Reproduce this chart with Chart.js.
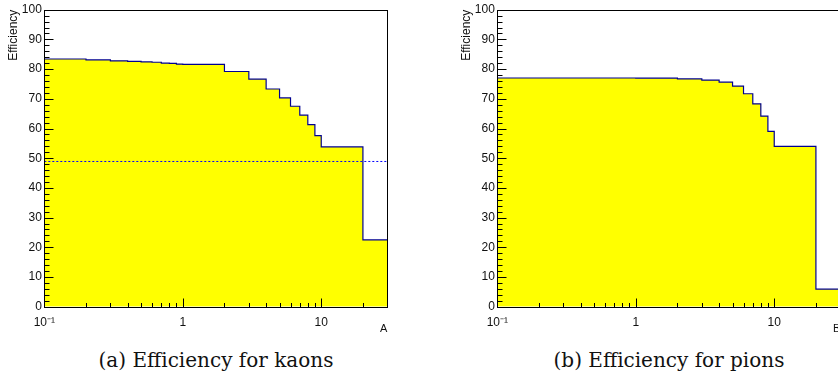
<!DOCTYPE html>
<html>
<head>
<meta charset="utf-8">
<script src="https://cdn.jsdelivr.net/npm/chart.js@4.4.1/dist/chart.umd.min.js"></script>
<style>
  html, body { margin: 0; padding: 0; background: #fff; }
  #wrap { position: relative; width: 838px; height: 385px; overflow: hidden; }
  canvas { position: absolute; top: 0; }
  .cap {
    position: absolute; top: 350px;
    font-family: "DejaVu Serif", serif; font-size: 20px; line-height: 20px;
    color: #111; white-space: nowrap; transform: translateX(-50%);
  }
</style>
</head>
<body>
<div id="wrap">
  <canvas id="kaons" width="420" height="340" style="left:0px"></canvas>
  <canvas id="pions" width="420" height="340" style="left:453px"></canvas>
  <div class="cap" style="left:216px">(a) Efficiency for kaons</div>
  <div class="cap" style="left:669px">(b) Efficiency for pions</div>
</div>
<script>
// bin edges of the histograms (log x axis)
const binEdges = [0.1, 0.2, 0.3, 0.4, 0.5, 0.6, 0.7, 0.8, 0.9, 1, 2, 3, 4, 5, 6, 7, 8, 9, 10, 20, 30];

// efficiency per bin (%)
const kaonEff = [83.4, 83.1, 82.8, 82.6, 82.4, 82.3, 82.0, 81.9, 81.7, 81.6,
                 79.2, 76.6, 73.3, 70.3, 67.5, 64.5, 61.3, 57.6, 53.8, 22.5];
const pionEff = [77.0, 77.0, 77.0, 77.0, 77.0, 77.0, 77.0, 77.0, 77.0, 76.95,
                 76.7, 76.3, 75.6, 74.3, 71.7, 68.3, 64.2, 59.0, 54.0, 5.9];

// dashed reference level on the kaon plot
const kaonLevel = 48.9;

// axis ticks
const xLabelTicks = [0.1, 1, 10];
const xTickMarks = [0.2, 0.3, 0.4, 0.5, 0.6, 0.7, 0.8, 0.9, 1, 2, 3, 4, 5, 6, 7, 8, 9, 10, 20];
const xTickText = { 0.1: "10\u207B\u00B9", 1: "1", 10: "10" };

// ROOT-like frame, ticks drawn inside the frame
const rootFrame = {
    id: "rootFrame",
    afterDraw(chart) {
        const { ctx, chartArea: a, scales: { x, y } } = chart;
        const L = Math.round(a.left) + 0.5;
        const R = Math.round(a.right) + 0.5;
        const T = Math.round(a.top) + 0.5;
        const B = Math.round(a.bottom) + 0.5;
        ctx.save();
        ctx.strokeStyle = "#000";
        ctx.lineWidth = 1;
        ctx.beginPath();
        xTickMarks.forEach((v) => {
            const px = Math.round(x.getPixelForValue(v)) + 0.5;
            const len = xLabelTicks.includes(v) ? 9 : 4.5;
            ctx.moveTo(px, B);
            ctx.lineTo(px, B - len);
        });
        for (let v = 0; v <= 100; v += 2) {
            const py = Math.round(y.getPixelForValue(v)) + 0.5;
            const len = v % 10 === 0 ? 9 : 5;
            ctx.moveTo(L, py);
            ctx.lineTo(L + len, py);
        }
        ctx.stroke();
        ctx.strokeRect(L, T, R - L, B - T);
        ctx.restore();
    },
};

function histPoints(vals) {
    const pts = vals.map((v, i) => ({ x: binEdges[i], y: v }));
    pts.push({ x: binEdges[binEdges.length - 1], y: vals[vals.length - 1] });
    return pts;
}

function makeChart(id, vals, xTitle, level) {
    const datasets = [];
    if (level !== null) {
        datasets.push({
            data: [{ x: binEdges[0], y: level }, { x: binEdges[binEdges.length - 1], y: level }],
            borderColor: "#0000ff",
            borderWidth: 1,
            borderDash: [2, 2],
            pointRadius: 0,
            fill: false,
        });
    }
    datasets.push({
        data: histPoints(vals),
        stepped: "before",
        borderColor: "#000090",
        borderWidth: 1.2,
        backgroundColor: "#ffff00",
        fill: "origin",
        pointRadius: 0,
    });

    return new Chart(document.getElementById(id), {
        type: "line",
        data: { datasets },
        options: {
            responsive: false,
            animation: false,
            events: [],
            layout: { autoPadding: false, padding: { left: 0, top: 6, right: 32.7, bottom: 0 } },
            plugins: { legend: { display: false }, tooltip: { enabled: false } },
            scales: {
                x: {
                    type: "logarithmic",
                    min: 0.1,
                    max: 30,
                    afterBuildTicks: (s) => { s.ticks = xLabelTicks.map((v) => ({ value: v })); },
                    afterFit: (s) => { s.height = 33.3; },
                    grid: { display: false, drawTicks: false },
                    border: { display: false },
                    ticks: {
                        autoSkip: false,
                        maxRotation: 0,
                        padding: 8.5,
                        color: "#111",
                        font: { family: "Liberation Sans", size: 12 },
                        callback: (v) => xTickText[v] || "",
                    },
                    title: {
                        display: true,
                        text: xTitle,
                        align: "end",
                        color: "#111",
                        font: { family: "Liberation Sans", size: 11 },
                        padding: { top: 0, bottom: 4.4 },
                    },
                },
                y: {
                    min: 0,
                    max: 100,
                    afterFit: (s) => { s.width = 44.3; },
                    grid: { display: false, drawTicks: false },
                    border: { display: false },
                    ticks: {
                        stepSize: 10,
                        padding: 2.5,
                        color: "#111",
                        font: { family: "Liberation Sans", size: 12 },
                    },
                    title: {
                        display: true,
                        text: "Efficiency",
                        align: "end",
                        color: "#111",
                        font: { family: "Liberation Sans", size: 12 },
                        padding: { top: 6.5, bottom: 0 },
                    },
                },
            },
        },
        plugins: [rootFrame],
    });
}

makeChart("kaons", kaonEff, "A", kaonLevel);
makeChart("pions", pionEff, "B", null);
</script>
</body>
</html>
